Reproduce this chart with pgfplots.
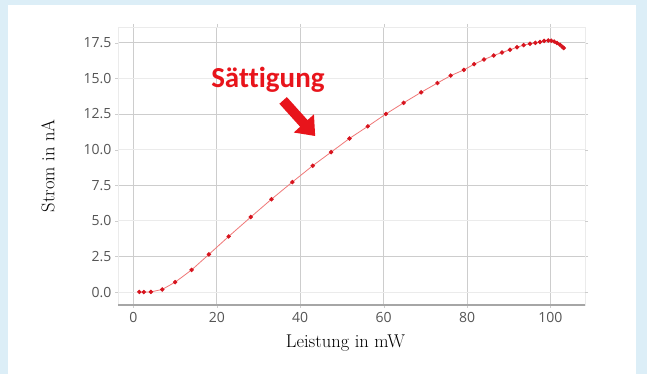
\documentclass[border=0pt]{standalone}
\usepackage{pgfplots}
\pgfplotsset{compat=1.18}
\usetikzlibrary{arrows.meta}
\usepackage{fontspec}
\newfontfamily\tickfont{Open Sans}
\newfontfamily\calfont[Ligatures={NoCommon}]{Carlito}
\definecolor{bgblue}{RGB}{220,238,247}
\definecolor{tickgray}{RGB}{85,85,85}
\definecolor{gridA}{RGB}{205,205,205}
\definecolor{gridB}{RGB}{235,235,235}
\definecolor{linered}{RGB}{240,120,120}
\definecolor{dotred}{RGB}{215,20,30}
\definecolor{annred}{RGB}{232,20,27}
\begin{document}
\begin{tikzpicture}[x=1pt,y=1pt]
\path[use as bounding box] (0,0) rectangle (647,374);
\fill[bgblue] (0,0) rectangle (647,374);
\fill[white] (8,0) rectangle (636,369);
\begin{axis}[
  at={(118pt,69pt)}, anchor=south west,
  scale only axis, width=467pt, height=278pt,
  xmin=-3.7, xmax=108.3, ymin=-0.9, ymax=18.6,
  xtick={0,20,40,60,80,100},
  ytick={2.5,7.5,12.5,17.5},
  extra y ticks={0,5,10,15},
  extra y tick style={grid style={draw=gridB, line width=0.8pt}},
  grid=major,
  grid style={draw=gridA, line width=0.8pt},
  axis line style={draw=gridB},
  tick align=outside,
  major tick length=3pt,
  tick style={draw=gridA},
  /pgf/number format/assume math mode=true,
  yticklabel style={/pgf/number format/.cd, fixed, fixed zerofill, precision=1},
  tick label style={font=\tickfont\fontsize{14}{16}\selectfont, text=tickgray},
  xticklabel style={yshift=-1pt},
  clip=false,
]
\addplot[color=linered, line width=0.8pt, mark=*, mark size=1.8pt,
  mark options={draw=dotred, fill=dotred}] coordinates {
(1.4,0.02) (2.5,0.01) (4.2,0.02) (6.9,0.19) (10.0,0.70) (13.95,1.56)
(18.1,2.65) (22.85,3.91) (28.15,5.27) (33.1,6.52) (38.1,7.72)
(43.0,8.87) (47.4,9.82) (51.8,10.78) (56.2,11.63) (60.55,12.50)
(64.8,13.28) (69.0,14.02) (72.9,14.67) (76.1,15.19) (79.25,15.59)
(81.7,15.99) (84.1,16.32) (86.4,16.60) (88.4,16.81) (90.3,17.00)
(92.0,17.18) (93.6,17.33) (95.1,17.42) (96.4,17.49) (97.5,17.55)
(98.5,17.62) (99.5,17.65) (100.2,17.64) (100.9,17.58) (101.6,17.48)
(102.3,17.35) (102.9,17.20) (103.2,17.12)
};
\draw[draw=gray!70, line width=1.6pt] (rel axis cs:0,0) -- (rel axis cs:1,0);
\draw[annred, line width=10pt, -{Triangle[length=17pt,width=26pt]}]
  (axis cs:35.9,13.45) -- (axis cs:43.6,10.95);
\node[anchor=base, text=annred, font=\calfont\bfseries\fontsize{29}{32}\selectfont]
  at (axis cs:32.25,14.36) {Sättigung};
\node[rotate=90, font=\fontsize{18.5}{21}\selectfont] at (axis description cs:-0.15,0.5) {Strom in nA};
\node[font=\fontsize{18.5}{21}\selectfont] at (axis description cs:0.487,-0.137) {Leistung in mW};
\end{axis}
\end{tikzpicture}
\end{document}
